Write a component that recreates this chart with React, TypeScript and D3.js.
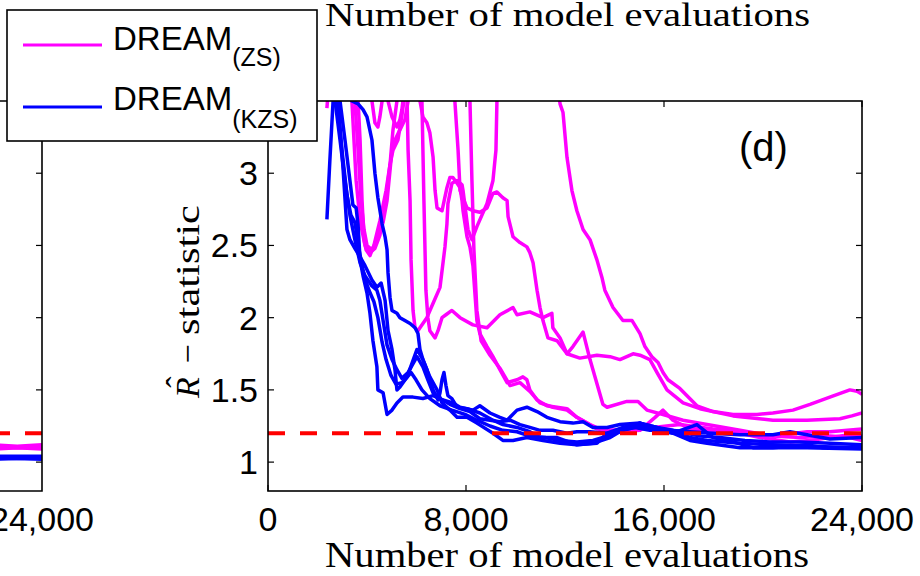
import React from "react";
import * as d3 from "d3";

type Pt = [number, number];

// x tick values / labels, y tick values / labels
const xTicks = [0, 8000, 16000, 24000];
const xTickLabels = ["0", "8,000", "16,000", "24,000"];
const yTicks = [1, 1.5, 2, 2.5, 3];
const yTickLabels = ["1", "1.5", "2", "2.5", "3"];
const threshold = 1.2;
const seriesNames = ["DREAM", "DREAM"];
const seriesSubs = ["(ZS)", "(KZS)"];

// DREAM(ZS) trajectories (magenta)
const zs1: Pt[] = [
  [2380, 3.45], [2500, 3.71], [3110, 3.92], [3390, 3.5], [3560, 2.95], [3720, 2.67], [3920, 2.5], [4120, 2.45],
  [4320, 2.48], [4520, 2.57], [4730, 2.78], [4930, 3.06], [5050, 3.3], [5210, 3.5], [5330, 3.78], [5940, 3.85],
  [6140, 3.5], [6260, 3.39], [6420, 3.35], [6540, 3.28], [6670, 3.11], [6750, 2.88], [6830, 2.76], [7030, 2.74],
  [7230, 2.9], [7350, 2.97], [7470, 2.97], [7640, 2.93], [7760, 2.9], [7840, 2.81], [7880, 2.74], [8040, 2.56],
  [8160, 2.49], [8280, 2.36], [8440, 1.98], [8560, 1.89], [8850, 1.8], [9090, 1.73], [9370, 1.64], [9660, 1.55],
  [10060, 1.57], [10300, 1.59], [10460, 1.57], [10580, 1.5], [10870, 1.43], [11270, 1.39], [11680, 1.38],
  [12080, 1.37], [12480, 1.31], [12890, 1.27], [13290, 1.23], [13700, 1.22], [15030, 1.23], [16640, 1.26],
  [17980, 1.23], [19070, 1.21], [20400, 1.18], [21780, 1.21], [22700, 1.21], [24000, 1.23],
];
const zs2: Pt[] = [
  [2380, 3.92], [3920, 3.78], [4200, 3.5], [4320, 3.35], [4440, 3.32], [4520, 3.39], [4610, 3.5], [4770, 3.78],
  [5410, 3.71], [5620, 3.5], [5660, 3.16], [5740, 2.81], [5780, 2.4], [5860, 2.05], [5940, 1.93], [6060, 1.91],
  [6140, 1.93], [6420, 2.0], [6670, 2.1], [6950, 2.21], [7150, 2.49], [7230, 2.65], [7270, 2.79], [7430, 2.93],
  [7640, 2.95], [7840, 2.92], [7880, 2.88], [8080, 2.61], [8240, 2.54], [8440, 2.63], [8850, 2.79], [9090, 2.95],
  [9210, 3.16], [9250, 3.5], [9370, 3.92], [10990, 4.06], [11680, 3.64], [11800, 3.48], [11920, 3.42],
  [12080, 3.11], [12280, 2.88], [12480, 2.74], [12730, 2.61], [13010, 2.54], [13290, 2.4], [13490, 2.28],
  [13610, 2.19], [13940, 2.07], [14340, 1.98], [14710, 1.98], [15030, 1.89], [15230, 1.8], [15510, 1.73],
  [15760, 1.69], [15960, 1.62], [16160, 1.57], [16640, 1.51], [17330, 1.39], [17980, 1.35], [18790, 1.33],
  [19760, 1.33], [20400, 1.34], [21210, 1.36], [21900, 1.4], [22700, 1.45], [23510, 1.5], [23800, 1.49],
  [24000, 1.47],
];
const zs3: Pt[] = [
  [2380, 3.85], [3310, 3.71], [3640, 3.5], [3720, 3.23], [3800, 2.81], [3880, 2.54], [3960, 2.47], [4120, 2.43],
  [4280, 2.5], [4520, 2.67], [4770, 2.88], [4930, 3.06], [5050, 3.16], [5250, 3.23], [5410, 3.4], [5490, 3.5],
  [5580, 3.71], [6060, 3.64], [6220, 3.5], [6300, 2.81], [6380, 2.19], [6460, 2.0], [6540, 1.91], [6750, 1.86],
  [6870, 1.91], [7030, 2.0], [7190, 2.02], [7430, 2.05], [7760, 2.0], [8280, 1.95], [8850, 1.93], [9370, 2.02],
  [9900, 2.07], [10060, 2.02], [10580, 2.04], [11110, 2.0], [11470, 2.03], [11510, 1.93], [11800, 1.86],
  [12080, 1.75], [12320, 1.8], [12730, 1.9], [13010, 1.71], [13530, 1.4], [13700, 1.38], [14500, 1.42],
  [14950, 1.42], [15310, 1.36], [15960, 1.33], [16770, 1.29], [17740, 1.26], [19070, 1.22], [20400, 1.18],
  [21490, 1.17], [22700, 1.18], [23510, 1.17], [24000, 1.15],
];
const zs4: Pt[] = [
  [2380, 3.99], [3110, 3.85], [3510, 3.5], [3640, 3.16], [3760, 2.81], [3880, 2.61], [4000, 2.5], [4200, 2.47],
  [4400, 2.54], [4650, 2.66], [4810, 2.81], [4930, 3.02], [5010, 3.16], [5130, 3.23], [5330, 3.3], [5530, 3.37],
  [5660, 3.5], [5820, 3.71], [6950, 3.78], [7550, 3.5], [7680, 3.16], [7760, 2.88], [8040, 2.76], [8280, 2.74],
  [8560, 2.73], [8850, 2.76], [9090, 2.86], [9250, 2.87], [9490, 2.83], [9660, 2.81], [9700, 2.7], [9900, 2.56],
  [10180, 2.52], [10460, 2.49], [10580, 2.45], [10710, 2.38], [10870, 2.19], [10990, 2.07], [11110, 1.98],
  [11310, 1.86], [11680, 1.84], [12080, 1.75], [12600, 1.72], [13290, 1.74], [13820, 1.73], [14220, 1.71],
  [14750, 1.75], [15030, 1.74], [15430, 1.71], [15720, 1.62], [16120, 1.5], [16770, 1.41], [17450, 1.37],
  [18790, 1.32], [20400, 1.29], [21780, 1.29], [23110, 1.3], [23590, 1.32], [24000, 1.34],
];
const zs5: Pt[] = [
  [2380, 4.02], [4730, 3.92], [4850, 3.5], [5010, 3.39], [5210, 3.32], [5330, 3.37], [5410, 3.44], [5450, 3.5],
  [5580, 3.78], [7760, 3.92], [8160, 3.5], [8240, 2.95], [8320, 2.47], [8440, 2.05], [8610, 1.84], [8970, 1.74],
  [9370, 1.65], [9780, 1.53], [10180, 1.55], [10580, 1.49], [10990, 1.41], [11510, 1.38], [12080, 1.36],
  [12480, 1.31], [13010, 1.26], [13530, 1.22], [14220, 1.21], [15030, 1.22], [15640, 1.31], [15960, 1.36],
  [16360, 1.29], [17050, 1.23], [17980, 1.22], [19070, 1.2], [19880, 1.17], [21090, 1.14], [21900, 1.15],
  [22700, 1.17], [23510, 1.19], [24000, 1.18],
];

// DREAM(KZS) trajectories (blue)
const kzs1: Pt[] = [
  [2380, 2.68], [2500, 3.09], [2630, 3.5], [2710, 3.64], [2830, 3.51], [3030, 3.04], [3190, 2.61], [3310, 2.54],
  [3510, 2.48], [3720, 2.42], [3920, 2.36], [4200, 2.26], [4400, 2.21], [4570, 2.24], [4730, 2.12], [4850, 1.91],
  [5010, 1.78], [5130, 1.64], [5210, 1.5], [5330, 1.52], [5620, 1.59], [6020, 1.78], [6260, 1.71], [6540, 1.59],
  [6830, 1.5], [7030, 1.41], [7350, 1.36], [7640, 1.31], [8040, 1.31], [8440, 1.27], [9090, 1.2], [9490, 1.15],
  [9900, 1.15], [10460, 1.17], [11110, 1.15], [11800, 1.13], [12480, 1.12], [13130, 1.13], [13820, 1.17],
  [14500, 1.24], [15030, 1.27], [15720, 1.24], [16360, 1.22], [17050, 1.17], [17740, 1.15], [19070, 1.13],
  [20400, 1.12], [21780, 1.11], [24000, 1.1],
];
const kzs2: Pt[] = [
  [2380, 3.92], [2630, 3.71], [2910, 3.5], [3110, 3.23], [3310, 2.95], [3430, 2.78], [3560, 2.76], [3640, 2.64],
  [3720, 2.4], [3840, 2.29], [4000, 2.17], [4120, 2.03], [4240, 1.84], [4400, 1.66], [4440, 1.5], [4650, 1.48],
  [4810, 1.33], [5010, 1.36], [5210, 1.41], [5450, 1.45], [5860, 1.45], [6260, 1.44], [6670, 1.46], [7070, 1.43],
  [7470, 1.41], [7760, 1.38], [8280, 1.36], [8560, 1.39], [8970, 1.34], [9370, 1.31], [9660, 1.29], [10060, 1.36],
  [10460, 1.38], [10870, 1.35], [11270, 1.31], [11800, 1.28], [12320, 1.27], [12730, 1.28], [13130, 1.24],
  [13700, 1.24], [14220, 1.26], [15030, 1.27], [15720, 1.22], [16360, 1.2], [17330, 1.26], [17980, 1.17],
  [18790, 1.14], [19590, 1.1], [20400, 1.1], [21780, 1.12], [22420, 1.1], [24000, 1.1],
];
const kzs3: Pt[] = [
  [2380, 3.85], [2710, 3.5], [2910, 3.23], [3110, 2.95], [3310, 2.71], [3510, 2.54], [3720, 2.38], [3920, 2.29],
  [4200, 2.22], [4400, 2.19], [4520, 2.12], [4650, 1.98], [4810, 1.81], [5010, 1.71], [5210, 1.64], [5410, 1.58],
  [5660, 1.62], [5820, 1.67], [6020, 1.73], [6260, 1.66], [6460, 1.57], [6670, 1.48], [6950, 1.44], [7350, 1.4],
  [7760, 1.37], [8160, 1.35], [8560, 1.3], [8970, 1.29], [9370, 1.28], [9780, 1.29], [10180, 1.26], [10580, 1.24],
  [10990, 1.22], [11510, 1.22], [12080, 1.2], [12480, 1.21], [13010, 1.21], [13700, 1.2], [14220, 1.22],
  [14830, 1.24], [15430, 1.22], [16240, 1.22], [17050, 1.21], [17980, 1.2], [19070, 1.19], [20400, 1.19],
  [21090, 1.21], [21780, 1.19], [22700, 1.16], [24000, 1.17],
];
const kzs4: Pt[] = [
  [2380, 3.96], [2790, 3.5], [2990, 3.16], [3190, 2.85], [3350, 2.71], [3510, 2.66], [3680, 2.47], [3880, 2.29],
  [4080, 2.19], [4280, 2.11], [4440, 2.0], [4610, 1.83], [4770, 1.71], [4970, 1.6], [5170, 1.54], [5410, 1.55],
  [5580, 1.58], [5780, 1.62], [5980, 1.57], [6220, 1.5], [6540, 1.44], [6950, 1.39], [7430, 1.36], [7960, 1.33],
  [8440, 1.29], [8970, 1.25], [9490, 1.22], [10060, 1.21], [10580, 1.18], [11190, 1.17], [11800, 1.15],
  [12480, 1.14], [13130, 1.15], [13700, 1.18], [14340, 1.22], [15030, 1.25], [15840, 1.23], [16640, 1.21],
  [17450, 1.18], [18260, 1.17], [19270, 1.15], [20280, 1.14], [21490, 1.14], [22700, 1.13], [24000, 1.12],
];
const kzs5: Pt[] = [
  [2380, 3.71], [2910, 3.64], [3390, 3.5], [3640, 3.48], [3840, 3.44], [4000, 3.39], [4200, 3.23], [4320, 3.0],
  [4440, 2.83], [4610, 2.65], [4730, 2.56], [4810, 2.47], [4850, 2.31], [4930, 2.14], [5010, 2.05], [5210, 2.03],
  [5330, 2.0], [5530, 1.98], [5740, 1.96], [5940, 1.93], [6060, 1.89], [6140, 1.78], [6260, 1.71], [6420, 1.64],
  [6540, 1.57], [6670, 1.5], [6870, 1.43], [6950, 1.48], [7030, 1.57], [7110, 1.62], [7190, 1.53], [7270, 1.46],
  [7430, 1.44], [7640, 1.38], [8040, 1.37], [8560, 1.34], [9090, 1.29], [9490, 1.26], [10060, 1.24], [10580, 1.21],
  [10990, 1.17], [11680, 1.17], [12480, 1.12], [13290, 1.13], [13700, 1.2], [14340, 1.24], [15030, 1.27],
  [15720, 1.24], [16360, 1.2], [17050, 1.15], [17740, 1.13], [19070, 1.1], [20400, 1.1], [21780, 1.1],
  [24000, 1.09],
];

// neighbouring panel (only its right edge is visible)
const leftZs1: Pt[] = [[20000, 1.12], [21000, 1.11], [22000, 1.12], [23000, 1.11], [24000, 1.12]];
const leftZs2: Pt[] = [[20000, 1.1], [22000, 1.09], [23000, 1.1], [24000, 1.09]];
const leftZs3: Pt[] = [[20000, 1.11], [22000, 1.1], [24000, 1.1]];
const leftKzs1: Pt[] = [[20000, 1.03], [22000, 1.02], [24000, 1.03]];
const leftKzs2: Pt[] = [[20000, 1.02], [22000, 1.03], [24000, 1.02]];
const leftKzs3: Pt[] = [[20000, 1.04], [24000, 1.04]];

const zsSeries = [zs1, zs2, zs3, zs4, zs5];
const kzsSeries = [kzs1, kzs2, kzs3, kzs4, kzs5];
const leftZsSeries = [leftZs1, leftZs2, leftZs3];
const leftKzsSeries = [leftKzs1, leftKzs2, leftKzs3];

const MAGENTA = "#ff00ff";
const BLUE = "#0000ff";
const RED = "#ff0000";
const SANS = "'Liberation Sans', Arial, sans-serif";
const SERIF = "'Liberation Serif', 'Times New Roman', serif";

export default function App() {
  const W = 920;
  const H = 576;
  const P = { left: 268, right: 862, top: 101, bottom: 491 };
  const leftPanelRight = 42;
  const panelW = P.right - P.left;

  const x = d3.scaleLinear().domain([0, 24000]).range([P.left, P.right]);
  const xL = d3.scaleLinear().domain([0, 24000]).range([leftPanelRight - panelW, leftPanelRight]);
  const y = d3.scaleLinear().domain([0.8, 3.5]).range([P.bottom, P.top]);

  const line = d3.line<Pt>().x((d) => x(d[0])).y((d) => y(d[1]));
  const lineL = d3.line<Pt>().x((d) => xL(d[0])).y((d) => y(d[1]));

  const frame = 1.6;
  const tickLen = 6;
  const lw = 3.5;

  return (
    <svg
      width={W}
      height={H}
      style={{ position: "absolute", left: 0, top: 0, background: "#fff" }}
    >
      <defs>
        <clipPath id="clipR">
          <rect x={P.left} y={P.top} width={panelW} height={P.bottom - P.top} />
        </clipPath>
        <clipPath id="clipL">
          <rect x={leftPanelRight - panelW} y={P.top} width={panelW} height={P.bottom - P.top} />
        </clipPath>
      </defs>
      <rect x={0} y={0} width={W} height={H} fill="#fff" />

      {/* top label belonging to the panel above */}
      <text x={325} y={26} fontFamily={SERIF} fontSize={34} textLength={485} lengthAdjust="spacingAndGlyphs">
        Number of model evaluations
      </text>

      {/* ---------- left (partial) panel ---------- */}
      <g clipPath="url(#clipL)">
        {leftZsSeries.map((s, i) => (
          <path key={"lz" + i} d={lineL(s) || ""} fill="none" stroke={MAGENTA} strokeWidth={lw} />
        ))}
        {leftKzsSeries.map((s, i) => (
          <path key={"lk" + i} d={lineL(s) || ""} fill="none" stroke={BLUE} strokeWidth={lw} />
        ))}
        <line
          x1={leftPanelRight}
          x2={leftPanelRight - panelW}
          y1={y(threshold)}
          y2={y(threshold)}
          stroke={RED}
          strokeWidth={4}
          strokeDasharray="17,15"
        />
      </g>
      <path
        d={`M${leftPanelRight - panelW},${P.top}H${leftPanelRight}V${P.bottom}H${leftPanelRight - panelW}`}
        fill="none"
        stroke="#000"
        strokeWidth={frame}
      />
      {yTicks.map((t) => (
        <line key={"lyt" + t} x1={leftPanelRight - tickLen} x2={leftPanelRight} y1={y(t)} y2={y(t)} stroke="#000" strokeWidth={1.2} />
      ))}
      <text x={xL(24000)} y={531} textAnchor="middle" fontFamily={SANS} fontSize={34}>
        {xTickLabels[3]}
      </text>

      {/* ---------- right panel ---------- */}
      <g clipPath="url(#clipR)">
        {zsSeries.map((s, i) => (
          <path key={"z" + i} d={line(s) || ""} fill="none" stroke={MAGENTA} strokeWidth={lw} strokeLinejoin="round" />
        ))}
        {kzsSeries.map((s, i) => (
          <path key={"k" + i} d={line(s) || ""} fill="none" stroke={BLUE} strokeWidth={lw} strokeLinejoin="round" />
        ))}
        <line
          x1={x(0)}
          x2={x(24000)}
          y1={y(threshold)}
          y2={y(threshold)}
          stroke={RED}
          strokeWidth={4}
          strokeDasharray="17,15"
        />
      </g>
      <rect x={P.left} y={P.top} width={panelW} height={P.bottom - P.top} fill="none" stroke="#000" strokeWidth={frame} />
      {yTicks.map((t) => (
        <g key={"yt" + t}>
          <line x1={P.left} x2={P.left + tickLen} y1={y(t)} y2={y(t)} stroke="#000" strokeWidth={1.2} />
          <line x1={P.right - tickLen} x2={P.right} y1={y(t)} y2={y(t)} stroke="#000" strokeWidth={1.2} />
        </g>
      ))}
      {xTicks.map((t) => (
        <g key={"xt" + t}>
          <line x1={x(t)} x2={x(t)} y1={P.bottom} y2={P.bottom - tickLen} stroke="#000" strokeWidth={1.2} />
          <line x1={x(t)} x2={x(t)} y1={P.top} y2={P.top + tickLen} stroke="#000" strokeWidth={1.2} />
        </g>
      ))}
      {yTicks.map((t, i) => (
        <text key={"ytl" + t} x={258} y={y(t) + 12} textAnchor="end" fontFamily={SANS} fontSize={34}>
          {yTickLabels[i]}
        </text>
      ))}
      {xTicks.map((t, i) => (
        <text key={"xtl" + t} x={x(t)} y={531} textAnchor="middle" fontFamily={SANS} fontSize={34}>
          {xTickLabels[i]}
        </text>
      ))}
      <text x={739} y={161} fontFamily={SANS} fontSize={40}>
        (d)
      </text>

      {/* axis labels */}
      <text x={325} y={567} fontFamily={SERIF} fontSize={35} textLength={484} lengthAdjust="spacingAndGlyphs">
        Number of model evaluations
      </text>
      <g transform="translate(199,301) rotate(-90)" fontFamily={SERIF} fontSize={34}>
        <text x={-97} y={0} fontStyle="italic">
          R
        </text>
        <text x={-81} y={-9} textAnchor="middle" fontSize={34}>
          ˆ
        </text>
        <text x={-53} y={0} textAnchor="middle">
          −
        </text>
        <text x={-34} y={0} textLength={130} lengthAdjust="spacingAndGlyphs">
          statistic
        </text>
      </g>

      {/* legend */}
      <rect x={7} y={10} width={310} height={131} fill="#fff" stroke="#000" strokeWidth={frame} />
      <line x1={23} x2={102} y1={45} y2={45} stroke={MAGENTA} strokeWidth={3} />
      <line x1={23} x2={102} y1={107} y2={107} stroke={BLUE} strokeWidth={3} />
      <text x={113} y={50} fontFamily={SANS} fontSize={33}>
        {seriesNames[0]}
        <tspan dy={16} fontSize={25}>{seriesSubs[0]}</tspan>
      </text>
      <text x={113} y={110} fontFamily={SANS} fontSize={33}>
        {seriesNames[1]}
        <tspan dy={18} fontSize={25}>{seriesSubs[1]}</tspan>
      </text>
    </svg>
  );
}
